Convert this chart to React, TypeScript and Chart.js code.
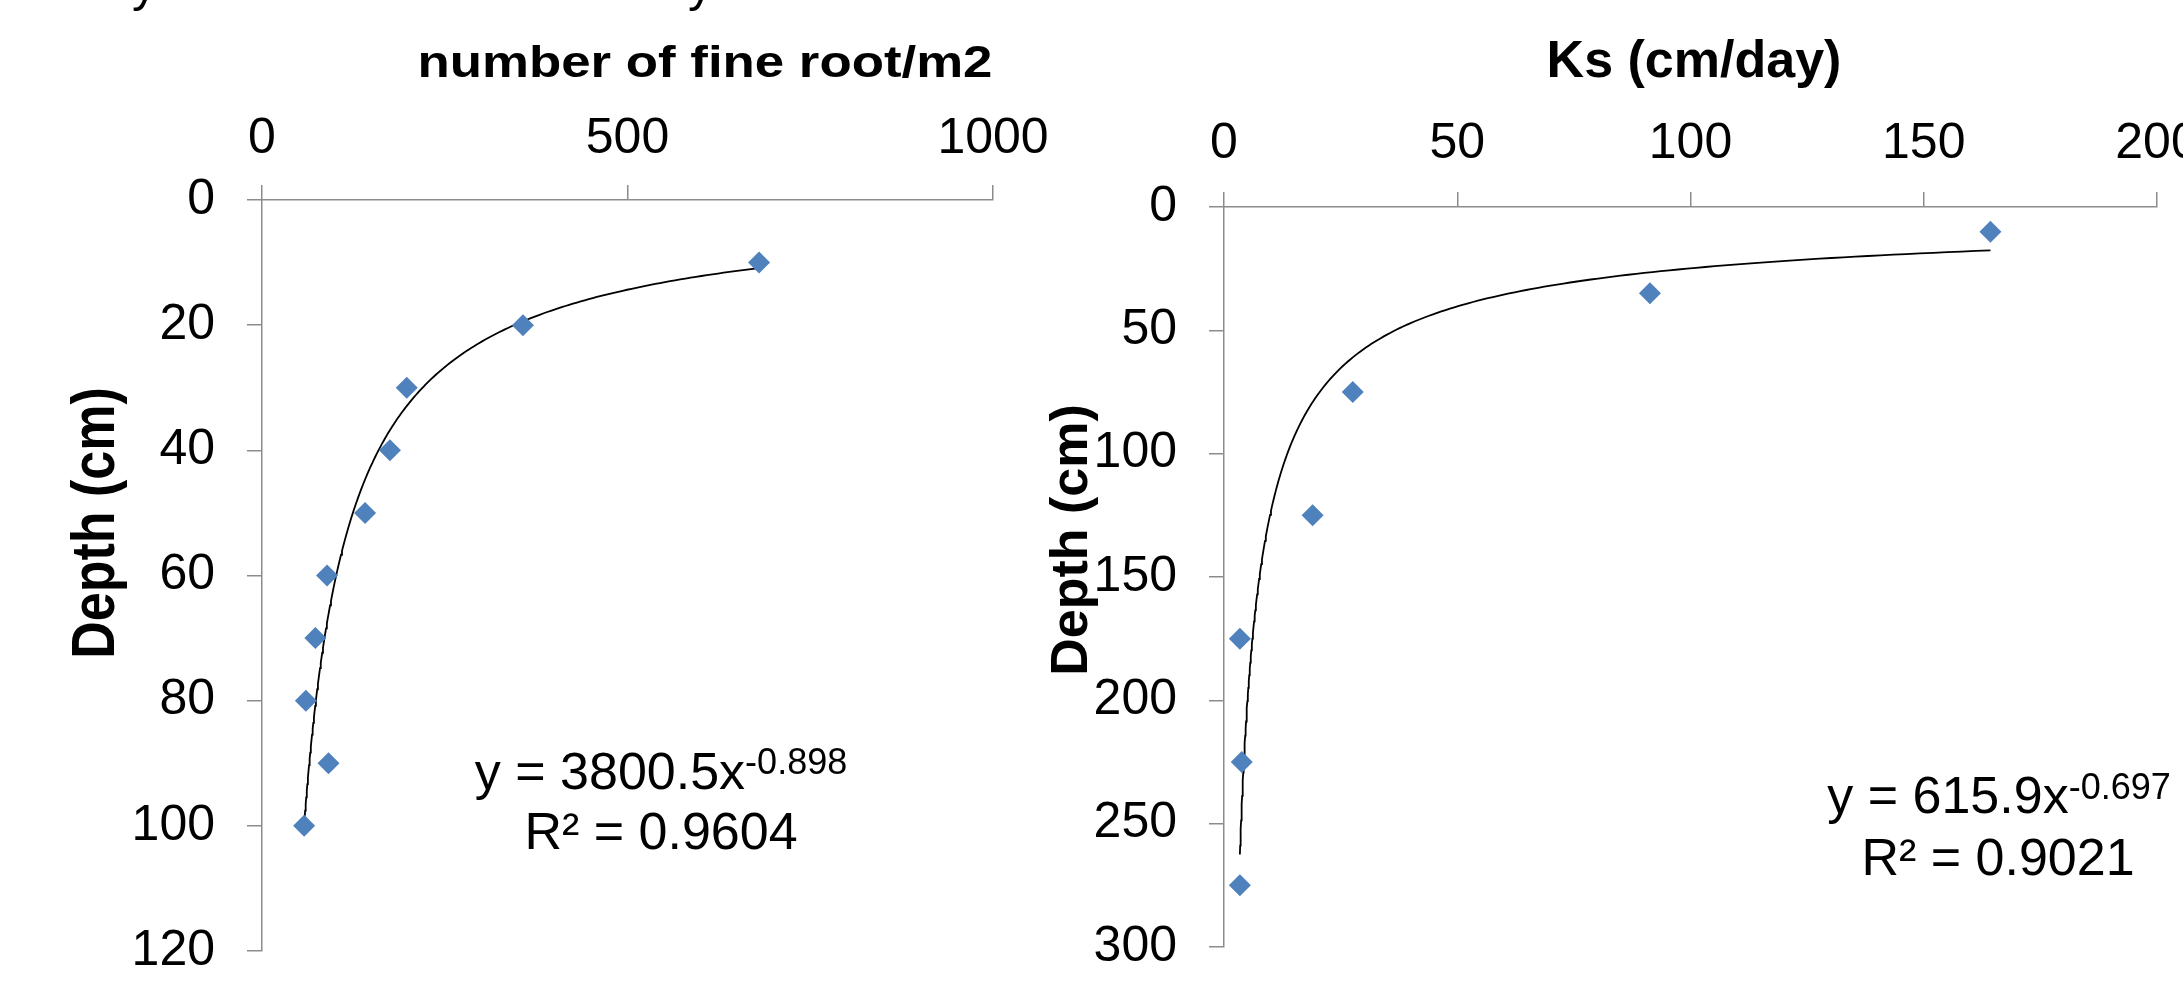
import React, { useEffect, useRef } from 'react';
import { Chart, registerables } from 'chart.js';

Chart.register(...registerables);

const FONT = '"Liberation Sans", Arial, Helvetica, sans-serif';
const BLUE = '#4F81BD';
const AXIS_GRAY = '#8c8c8c';

// ---------- Left chart: number of fine roots vs depth ----------
const rootDepths = [10, 20, 30, 40, 50, 60, 70, 80, 90, 100];
const rootCounts = [680, 357, 198, 175, 141, 89, 73, 60, 91, 57.6];
const rootFitCoef = 3800.5;
const rootFitExp = -0.898;
const rootFitLabel = 'y = 3800.5x';
const rootFitExpLabel = '-0.898';
const rootR2Label = 'R² = 0.9604';
const rootXTicks = [0, 500, 1000];
const rootYTicks = [0, 20, 40, 60, 80, 100, 120];

// ---------- Right chart: Ks vs depth ----------
const ksDepths = [10, 35, 75, 125, 175, 225, 275];
const ksValues = [164.3, 91.3, 27.6, 19.0, 3.4, 3.8, 3.4];
const ksFitCoef = 615.9;
const ksFitExp = -0.697;
const ksFitLabel = 'y = 615.9x';
const ksFitExpLabel = '-0.697';
const ksR2Label = 'R² = 0.9021';
const ksXTicks = [0, 50, 100, 150, 200];
const ksYTicks = [0, 50, 100, 150, 200, 250, 300];

// power trendline (as drawn by the spreadsheet) over the data's x range
function powerTrend(coef: number, exp: number, xs: number[]) {
  const lo = Math.min(...xs);
  const hi = Math.max(...xs);
  const n = 200;
  const pts: { x: number; y: number }[] = [];
  for (let k = 0; k <= n; k++) {
    const x = lo * Math.pow(hi / lo, k / n);
    pts.push({ x, y: coef * Math.pow(x, exp) });
  }
  return pts;
}

type Run = { text: string; size: number; bold?: boolean; rise?: number };
type Item = {
  runs: Run[];
  x: number;
  y: number;
  align: 'left' | 'center' | 'right';
  rotate?: number;
  scaleX?: number;
};

const freeTextPlugin = {
  id: 'freeText',
  afterDraw(chart: any, _args: any, opts: any) {
    const ctx: CanvasRenderingContext2D = chart.ctx;
    const items: Item[] = (opts && opts.items) || [];
    for (const it of items) {
      ctx.save();
      ctx.translate(it.x, it.y);
      if (it.scaleX) ctx.scale(it.scaleX, 1);
      if (it.rotate) ctx.rotate(it.rotate);
      ctx.fillStyle = '#000';
      ctx.textBaseline = 'alphabetic';
      ctx.textAlign = 'left';
      let total = 0;
      const widths = it.runs.map((r) => {
        ctx.font = `${r.bold ? 'bold ' : ''}${r.size}px ${FONT}`;
        const w = ctx.measureText(r.text).width;
        total += w;
        return w;
      });
      let cx = it.align === 'center' ? -total / 2 : it.align === 'right' ? -total : 0;
      it.runs.forEach((r, i) => {
        ctx.font = `${r.bold ? 'bold ' : ''}${r.size}px ${FONT}`;
        ctx.fillText(r.text, cx, -(r.rise || 0));
        cx += widths[i];
      });
      ctx.restore();
    }
  },
};

function makeScale(opts: {
  axis: 'x' | 'y';
  min: number;
  max: number;
  ticks: number[];
  boxSize: number;
  padding: number;
}) {
  const isX = opts.axis === 'x';
  return {
    type: 'linear',
    position: isX ? 'top' : 'left',
    reverse: !isX,
    min: opts.min,
    max: opts.max,
    afterBuildTicks: (s: any) => {
      s.ticks = opts.ticks.map((v) => ({ value: v }));
    },
    afterFit: (s: any) => {
      if (isX) s.height = opts.boxSize;
      else s.width = opts.boxSize;
      s.paddingLeft = 0;
      s.paddingRight = 0;
      s.paddingTop = 0;
      s.paddingBottom = 0;
    },
    ticks: {
      color: '#000',
      font: { family: FONT, size: 50 },
      padding: opts.padding,
      autoSkip: false,
      maxRotation: 0,
      minRotation: 0,
      callback: (v: any) => String(v),
    },
    grid: {
      display: true,
      drawOnChartArea: false,
      drawTicks: true,
      tickLength: 15,
      color: AXIS_GRAY,
      lineWidth: 1.5,
    },
    border: { display: true, color: AXIS_GRAY, width: 1.5 },
    title: { display: false },
  };
}

function buildConfig(p: {
  xs: number[];
  ys: number[];
  coef: number;
  exp: number;
  xMax: number;
  yMax: number;
  xTicks: number[];
  yTicks: number[];
  yBox: number;
  xBox: number;
  xPad: number;
  yPad: number;
  layoutPad: { left: number; right: number; top: number; bottom: number };
  items: Item[];
}) {
  return {
    type: 'scatter',
    data: {
      datasets: [
        {
          label: 'data',
          data: p.xs.map((x, i) => ({ x, y: p.ys[i] })),
          pointStyle: 'rectRot',
          pointRadius: 11,
          backgroundColor: BLUE,
          borderColor: BLUE,
          borderWidth: 0,
          showLine: false,
          order: 0,
        },
        {
          label: 'trend',
          data: powerTrend(p.coef, p.exp, p.xs),
          showLine: true,
          pointRadius: 0,
          borderColor: '#000',
          borderWidth: 1.8,
          fill: false,
          tension: 0,
          order: 1,
        },
      ],
    },
    options: {
      responsive: false,
      animation: false,
      events: [],
      layout: { padding: p.layoutPad },
      scales: {
        x: makeScale({ axis: 'x', min: 0, max: p.xMax, ticks: p.xTicks, boxSize: p.xBox, padding: p.xPad }),
        y: makeScale({ axis: 'y', min: 0, max: p.yMax, ticks: p.yTicks, boxSize: p.yBox, padding: p.yPad }),
      },
      plugins: {
        legend: { display: false },
        tooltip: { enabled: false },
        freeText: { items: p.items },
      },
    },
    plugins: [freeTextPlugin],
  } as any;
}

const W = 2183;
const H = 982;

export default function App() {
  const leftRef = useRef<HTMLCanvasElement>(null);
  const rightRef = useRef<HTMLCanvasElement>(null);

  useEffect(() => {
    document.body.style.margin = '0';
    document.body.style.overflow = 'hidden';

    const leftItems: Item[] = [
      { runs: [{ text: 'y', size: 50 }], x: 132, y: 1, align: 'left' },
      { runs: [{ text: 'y', size: 50 }], x: 688, y: 1, align: 'left' },
      { runs: [{ text: 'number of fine root/m2', size: 44, bold: true }], x: 705, y: 77, align: 'center', scaleX: 1.2 },
      { runs: [{ text: 'Depth (cm)', size: 52, bold: true }], x: 114, y: 523, align: 'center', rotate: -Math.PI / 2, scaleX: 1.17 },
      {
        runs: [
          { text: rootFitLabel, size: 52 },
          { text: rootFitExpLabel, size: 36, rise: 15 },
        ],
        x: 661,
        y: 789,
        align: 'center',
      },
      { runs: [{ text: rootR2Label, size: 52 }], x: 661, y: 849, align: 'center' },
    ];

    const rightItems: Item[] = [
      { runs: [{ text: 'Ks (cm/day)', size: 52, bold: true }], x: 1694, y: 77, align: 'center' },
      { runs: [{ text: 'Depth (cm)', size: 52, bold: true }], x: 1087, y: 540, align: 'center', rotate: -Math.PI / 2 },
      {
        runs: [
          { text: ksFitLabel, size: 52 },
          { text: ksFitExpLabel, size: 36, rise: 14 },
        ],
        x: 1999,
        y: 813,
        align: 'center',
      },
      { runs: [{ text: ksR2Label, size: 52 }], x: 1998, y: 875, align: 'center' },
    ];

    const left = new Chart(
      leftRef.current as HTMLCanvasElement,
      buildConfig({
        xs: rootCounts,
        ys: rootDepths,
        coef: rootFitCoef,
        exp: rootFitExp,
        xMax: 1000,
        yMax: 120,
        xTicks: rootXTicks,
        yTicks: rootYTicks,
        yBox: 262,
        xBox: 200,
        xPad: 16,
        yPad: 32,
        layoutPad: { left: 0, top: 0, right: W - 993, bottom: H - 951 },
        items: leftItems,
      })
    );

    const right = new Chart(
      rightRef.current as HTMLCanvasElement,
      buildConfig({
        xs: ksValues,
        ys: ksDepths,
        coef: ksFitCoef,
        exp: ksFitExp,
        xMax: 200,
        yMax: 300,
        xTicks: ksXTicks,
        yTicks: ksYTicks,
        yBox: 1224,
        xBox: 207,
        xPad: 18,
        yPad: 32,
        layoutPad: { left: 0, top: 0, right: W - 2157, bottom: H - 947 },
        items: rightItems,
      })
    );

    return () => {
      left.destroy();
      right.destroy();
    };
  }, []);

  const canvasStyle: React.CSSProperties = {
    position: 'absolute',
    left: 0,
    top: 0,
    width: W,
    height: H,
  };

  return (
    <div style={{ position: 'absolute', left: 0, top: 0, width: W, height: H, background: '#fff', overflow: 'hidden' }}>
      <canvas ref={leftRef} width={W} height={H} style={canvasStyle} />
      <canvas ref={rightRef} width={W} height={H} style={canvasStyle} />
    </div>
  );
}
